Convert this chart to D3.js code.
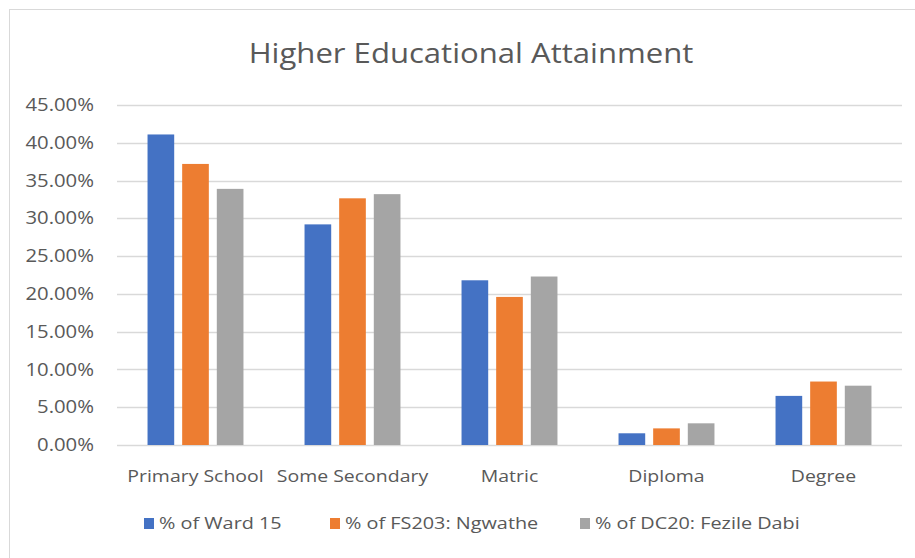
<!DOCTYPE html>
<html>
<head>
<meta charset="utf-8">
<script src="https://cdn.jsdelivr.net/npm/d3@7"></script>
<style>
  html, body { margin: 0; padding: 0; background: #fff; }
  svg { display: block; font-family: "Open Sans", "Noto Sans", sans-serif; }
</style>
</head>
<body>
<svg id="chart" width="915" height="558"></svg>
<script>
// Educational attainment shares by area
const categories = ["Primary School", "Some Secondary", "Matric", "Diploma", "Degree"];
const seriesNames = ["% of Ward 15", "% of FS203: Ngwathe", "% of DC20: Fezile Dabi"];
const ward15 = [0.411, 0.292, 0.218, 0.0155, 0.065];
const ngwathe = [0.372, 0.3265, 0.196, 0.022, 0.084];
const fezileDabi = [0.339, 0.332, 0.223, 0.0287, 0.0785];
const yTicks = [0, 0.05, 0.10, 0.15, 0.20, 0.25, 0.30, 0.35, 0.40, 0.45];
const colors = ["#4472C4", "#ED7D31", "#A5A5A5"];
const title = "Higher Educational Attainment";

const seriesValues = [ward15, ngwathe, fezileDabi];
const rows = categories.map((c, i) => ({
  category: c,
  values: seriesNames.map((s, j) => ({ series: s, value: seriesValues[j][i] }))
}));

const svg = d3.select("#chart");
const textColor = "#595959";

// chart frame
svg.append("rect")
  .attr("x", 9.5).attr("y", 9.5)
  .attr("width", 915).attr("height", 560)
  .attr("fill", "#fff").attr("stroke", "#d9d9d9");

const plot = { left: 117, right: 902, top: 105, bottom: 445 };

const x0 = d3.scaleBand()
  .domain(categories)
  .range([plot.left, plot.right])
  .paddingInner(0.389)
  .paddingOuter(0.1945);

const x1 = d3.scaleBand()
  .domain(seriesNames)
  .range([0, x0.bandwidth()])
  .paddingInner(0.23);

const y = d3.scaleLinear()
  .domain([0, 0.45])
  .range([plot.bottom, plot.top]);

// gridlines
svg.append("g")
  .selectAll("line")
  .data(yTicks)
  .join("line")
  .attr("x1", plot.left).attr("x2", plot.right)
  .attr("y1", d => Math.round(y(d)) + 0.5)
  .attr("y2", d => Math.round(y(d)) + 0.5)
  .attr("stroke", "#d9d9d9")
  .attr("stroke-width", 1.5);

// y axis labels (wide face: stretched horizontally about the anchor)
const yAxis = d3.axisLeft(y)
  .tickValues(yTicks)
  .tickFormat(d3.format(".2%"))
  .tickSize(0)
  .tickPadding(0);

svg.append("g")
  .attr("transform", `translate(${94},0)`)
  .call(yAxis)
  .call(g => g.select(".domain").remove())
  .call(g => g.selectAll("text")
    .attr("fill", textColor)
    .attr("font-size", 17.5)
    .attr("font-family", "'Open Sans', sans-serif")
    .attr("transform", "scale(1.16,1)"));

// bars
svg.append("g")
  .selectAll("g")
  .data(rows)
  .join("g")
  .attr("transform", d => `translate(${x0(d.category)},0)`)
  .selectAll("rect")
  .data(d => d.values)
  .join("rect")
  .attr("x", d => x1(d.series))
  .attr("width", x1.bandwidth())
  .attr("y", d => y(d.value))
  .attr("height", d => y(0) - y(d.value))
  .attr("fill", (d, i) => colors[i]);

// x axis labels
const xAxis = d3.axisBottom(x0).tickSize(0).tickPadding(0);
svg.append("g")
  .attr("transform", `translate(0,${470})`)
  .call(xAxis)
  .call(g => g.select(".domain").remove())
  .call(g => g.selectAll("text")
    .attr("fill", textColor)
    .attr("font-size", 16.5)
    .attr("font-family", "'Open Sans', sans-serif")
    .attr("transform", "scale(1.18,1)"));

// title
svg.append("text")
  .attr("transform", "translate(471,63) scale(1.11,1)")
  .attr("text-anchor", "middle")
  .attr("fill", textColor)
  .attr("font-size", 28)
  .text(title);

// legend
const legendX = [144, 330, 580];
const legend = svg.append("g")
  .selectAll("g")
  .data(seriesNames)
  .join("g")
  .attr("transform", (d, i) => `translate(${legendX[i]},${523.5})`);

legend.append("rect")
  .attr("x", 0).attr("y", -5.5)
  .attr("width", 10).attr("height", 11)
  .attr("fill", (d, i) => colors[i]);

legend.append("text")
  .attr("transform", "translate(15,0) scale(1.24,1)")
  .attr("dy", "0.35em")
  .attr("fill", textColor)
  .attr("font-size", 16)
  .text(d => d);
</script>
</body>
</html>
